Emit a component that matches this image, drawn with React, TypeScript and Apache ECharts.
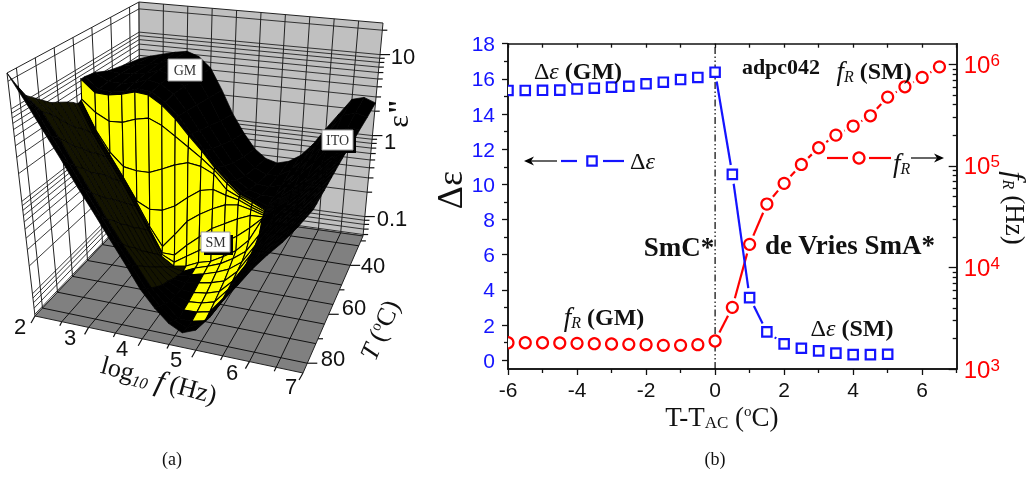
import React, { useEffect, useRef } from "react";
import * as echarts from "echarts";

// ---------- panel (b) data ----------
const deltaX = [-6, -5.5, -5, -4.5, -4, -3.5, -3, -2.5, -2, -1.5, -1, -0.5, 0, 0.5, 1, 1.5, 2, 2.5, 3, 3.5, 4, 4.5, 5];
const deltaEps = [15.34, 15.34, 15.35, 15.36, 15.42, 15.47, 15.53, 15.58, 15.72, 15.81, 15.96, 16.08, 16.38, 10.57, 3.56, 1.61, 0.93, 0.68, 0.53, 0.4, 0.32, 0.32, 0.34];
const relaxX = [-6, -5.5, -5, -4.5, -4, -3.5, -3, -2.5, -2, -1.5, -1, -0.5, 0, 0.5, 1, 1.5, 2, 2.5, 3, 3.5, 4, 4.5, 5, 5.5, 6, 6.5];
const relaxF = [1815, 1815, 1815, 1803, 1789, 1775, 1762, 1749, 1736, 1709, 1709, 1736, 1886, 4045, 16870, 42070, 67300, 103300, 150700, 200900, 246500, 311200, 475500, 600700, 743000, 944000];
const boundaryX = [0, 0];
const boundaryY = [-0.5, 18];
const xMajor = [-6, -4, -2, 0, 2, 4, 6];
const xMinor = [-5, -3, -1, 1, 3, 5, 7];
const xTop = [-6, -5, -4, -3, -2, -1, 0, 1, 2, 3, 4, 5, 6, 7];
const yMajor = [0, 2, 4, 6, 8, 10, 12, 14, 16, 18];
const yMinor = [1, 3, 5, 7, 9, 11, 13, 15, 17];
const fMajor = [1e3, 1e4, 1e5, 1e6];
const fMinor = [2e3, 3e3, 4e3, 5e3, 6e3, 7e3, 8e3, 9e3, 2e4, 3e4, 4e4, 5e4, 6e4, 7e4, 8e4, 9e4, 2e5, 3e5, 4e5, 5e5, 6e5, 7e5, 8e5, 9e5];

// ---------- panel (a) data ----------
const logFreq = [2, 2.25, 2.5, 2.75, 3, 3.25, 3.5, 3.75, 4, 4.25, 4.5, 4.75, 5, 5.25, 5.5, 5.75, 6, 6.25, 6.5, 6.75, 7];
const tempRows = [84, 80.6, 77.3, 73.9, 70.6, 67.2, 63.8, 60.5, 57.7, 55.7, 55.4, 55.2, 54.9, 54.6, 54.3, 54.0, 53.8, 52.1, 47.6, 42, 35.3, 28];
// log-scaled eps'' as a share of the box height, one row per temperature
const lossRows = [
  [1.0, .89, .78, .675, .57, .475, .38, .29, .20, .135, .085, .058, .08, .14, .22, .29, .365, .43, .49, .56, .64],
  [.93, .85, .74, .64, .535, .44, .345, .26, .175, .115, .07, .05, .075, .135, .215, .29, .365, .43, .49, .56, .64],
  [.87, .81, .71, .60, .50, .40, .31, .23, .15, .095, .045, .045, .058, .13, .21, .29, .365, .43, .495, .565, .64],
  [.84, .78, .67, .57, .465, .37, .27, .20, .125, .08, .05, .052, .065, .13, .21, .29, .37, .435, .50, .565, .64],
  [.81, .74, .63, .53, .43, .33, .24, .17, .105, .07, .055, .06, .075, .135, .215, .29, .37, .44, .50, .57, .64],
  [.78, .70, .60, .50, .40, .30, .20, .14, .09, .065, .063, .07, .087, .14, .22, .30, .375, .44, .505, .57, .64],
  [.76, .66, .56, .47, .365, .26, .165, .11, .07, .063, .072, .083, .10, .15, .23, .31, .38, .445, .51, .575, .64],
  [.74, .63, .53, .43, .33, .23, .13, .08, .055, .066, .08, .097, .12, .16, .24, .32, .39, .45, .515, .575, .64],
  [.72, .60, .50, .40, .30, .20, .10, .055, .045, .07, .087, .108, .14, .18, .26, .34, .40, .455, .52, .58, .64],
  [.70, .573, .474, .379, .28, .179, .075, .04, .05, .075, .09, .12, .155, .21, .31, .37, .41, .46, .52, .58, .64],
  [.70, .575, .476, .381, .283, .182, .08, .055, .09, .125, .16, .18, .215, .26, .312, .372, .412, .462, .522, .58, .64],
  [.702, .575, .478, .383, .286, .185, .085, .085, .137, .183, .229, .259, .289, .313, .315, .374, .414, .464, .524, .585, .64],
  [.702, .576, .48, .385, .29, .19, .11, .172, .24, .28, .313, .339, .347, .335, .32, .376, .416, .466, .526, .585, .64],
  [.704, .577, .482, .388, .292, .264, .268, .296, .342, .382, .395, .378, .366, .343, .325, .378, .418, .468, .528, .59, .64],
  [.706, .58, .49, .434, .424, .425, .449, .476, .494, .486, .46, .40, .376, .35, .33, .38, .42, .47, .53, .59, .64],
  [.71, .658, .627, .63, .652, .665, .64, .60, .56, .52, .475, .425, .38, .36, .333, .382, .422, .472, .532, .59, .64],
  [.80, .746, .744, .755, .773, .767, .73, .676, .61, .55, .485, .433, .385, .363, .335, .385, .425, .475, .535, .595, .64],
  [.80, .75, .747, .757, .775, .77, .73, .676, .605, .54, .475, .42, .375, .355, .335, .385, .43, .485, .55, .60, .635],
  [.79, .755, .755, .765, .785, .775, .735, .665, .585, .51, .44, .385, .35, .335, .335, .39, .45, .51, .58, .62, .63],
  [.76, .755, .76, .77, .79, .775, .73, .65, .56, .48, .405, .355, .325, .32, .335, .395, .46, .53, .60, .63, .63],
  [.74, .75, .755, .77, .79, .775, .72, .63, .53, .445, .375, .33, .305, .31, .34, .40, .47, .545, .62, .64, .625],
  [.72, .74, .755, .77, .78, .76, .71, .61, .50, .415, .345, .305, .29, .305, .34, .40, .48, .555, .63, .645, .625],
];
const freqGrid = [2.5, 3, 3.5, 4, 4.5, 5, 5.5, 6, 6.5];
const freqTicks = [2, 3, 4, 5, 6, 7];
const freqMinorTicks = [2.5, 3.5, 4.5, 5.5, 6.5];
const tempGrid = [32, 40, 48, 56, 64, 72, 80];
const tempTicks = [40, 60, 80];
const tempMinorTicks = [30, 50, 70];
const lossGrid = [0.06, 0.07, 0.08, 0.09, 0.1, 0.2, 0.3, 0.4, 0.5, 0.6, 0.7, 0.8, 0.9, 1, 2, 3, 4, 5, 6, 7, 8, 9, 10, 20];
const lossTicks = [0.1, 1, 10];

// ---------- projection of the box of panel (a) ----------
const floorBL = [140, 205], floorBR = [363, 236], floorNL = [35, 316], floorNR = [303, 373];
const topBL = [139, 2], topBR = [383, 23], topNL = [7, 73], topNR = [319, 118];
const uOf = (f: number) => (f - 2) / 5;
const vOf = (T: number) => (T - 28) / 56; // 0 at the back, 1 at the front
const wOf = (e: number) => (Math.log10(e) + 1.24) / 2.63;
const mix = (a: number[], b: number[], k: number) => [a[0] + (b[0] - a[0]) * k, a[1] + (b[1] - a[1]) * k];
function project(u: number, v: number, w: number) {
  const floor = mix(mix(floorBL, floorBR, u), mix(floorNL, floorNR, u), v);
  const top = mix(mix(topBL, topBR, u), mix(topNL, topNR, u), v);
  return mix(floor, top, w);
}
const SERIF = "Liberation Serif";
const SANS = "Liberation Sans";
const BLUE = "#1414ff";
const RED = "#ff0000";

function seg(a: number[], b: number[], stroke = "#222", lineWidth = 1) {
  return { type: "line", shape: { x1: a[0], y1: a[1], x2: b[0], y2: b[1] }, style: { stroke, lineWidth } };
}

function renderBox() {
  const kids: any[] = [];
  const poly = (pts: number[][], fill: string) => kids.push({ type: "polygon", shape: { points: pts }, style: { fill, stroke: "#222", lineWidth: 1 } });
  poly([project(0, 0, 0), project(0, 1, 0), project(0, 1, 1), project(0, 0, 1)], "#ffffff");
  poly([project(0, 0, 0), project(1, 0, 0), project(1, 0, 1), project(0, 0, 1)], "#c0c0c0");
  poly([project(0, 0, 0), project(1, 0, 0), project(1, 1, 0), project(0, 1, 0)], "#808080");
  freqGrid.forEach((f) => {
    kids.push(seg(project(uOf(f), 0, 0), project(uOf(f), 0, 1)));
    kids.push(seg(project(uOf(f), 0, 0), project(uOf(f), 1, 0), "#111"));
  });
  tempGrid.forEach((T) => {
    kids.push(seg(project(0, vOf(T), 0), project(0, vOf(T), 1)));
    kids.push(seg(project(0, vOf(T), 0), project(1, vOf(T), 0), "#111"));
  });
  lossGrid.forEach((e) => {
    kids.push(seg(project(0, 0, wOf(e)), project(1, 0, wOf(e)), "#222", 0.9));
    kids.push(seg(project(0, 0, wOf(e)), project(0, 1, wOf(e)), "#222", 0.9));
  });
  const tick = (p: number[], dx: number, dy: number) => kids.push(seg(p, [p[0] + dx, p[1] + dy], "#111", 1.2));
  freqTicks.forEach((f) => tick(project(uOf(f), 1, 0), -4, 7));
  freqMinorTicks.forEach((f) => tick(project(uOf(f), 1, 0), -2, 4));
  tempTicks.forEach((T) => tick(project(1, vOf(T), 0), 10, 0));
  tempMinorTicks.forEach((T) => tick(project(1, vOf(T), 0), 5, 0));
  lossTicks.forEach((e) => tick(project(1, 0, wOf(e)), 10, 0));
  lossGrid.filter((e) => !lossTicks.includes(e)).forEach((e) => tick(project(1, 0, wOf(e)), 5, 0));
  return { type: "group", children: kids };
}

const surfaceCells: number[][] = [];
for (let r = tempRows.length - 2; r >= 0; r--) for (let c = 0; c < logFreq.length - 1; c++) surfaceCells.push([c, r]);
const WALL_TOP_T = 53.8;

function renderCell(_p: any, api: any) {
  const c = api.value(0), r = api.value(1);
  const pt = (cc: number, rr: number) => project(uOf(logFreq[cc]), vOf(tempRows[rr]), lossRows[rr][cc]);
  const dT = (tempRows[r] - tempRows[r + 1]) / 56;
  const rise = ((lossRows[r + 1][c] + lossRows[r + 1][c + 1]) - (lossRows[r][c] + lossRows[r][c + 1])) / 2 / dT;
  const facing = rise > 0.1 && logFreq[c + 1] <= 5.5 && tempRows[r + 1] >= WALL_TOP_T;
  const flank = rise < -0.1 && logFreq[c] < 4 && tempRows[r] < 78 && tempRows[r + 1] >= WALL_TOP_T;
  const fill = facing ? "#ffff00" : flank ? "#141400" : "#000000";
  return {
    type: "polygon",
    shape: { points: [pt(c, r), pt(c + 1, r), pt(c + 1, r + 1), pt(c, r + 1)] },
    style: { fill, stroke: "#000", lineWidth: facing ? 1.1 : 0.7 },
  };
}

// ---------- curves of panel (b): Origin-style lines broken around the markers ----------
function curveRenderer(xs: number[], ys: number[], color: string, shape: "square" | "circle", gap: number) {
  return (params: any, api: any) => {
    const i = params.dataIndex;
    const p = api.coord([xs[i], ys[i]]);
    const kids: any[] = [];
    if (i + 1 < xs.length) {
      const q = api.coord([xs[i + 1], ys[i + 1]]);
      const dx = q[0] - p[0], dy = q[1] - p[1];
      const len = Math.hypot(dx, dy);
      if (len > 2 * gap) {
        const k = gap / len;
        kids.push(seg([p[0] + dx * k, p[1] + dy * k], [q[0] - dx * k, q[1] - dy * k], color, 2.2));
      }
    }
    if (shape === "square") kids.push({ type: "rect", shape: { x: p[0] - 4.7, y: p[1] - 4.7, width: 9.4, height: 9.4 }, style: { fill: "#fff", stroke: color, lineWidth: 2.2 } });
    else kids.push({ type: "circle", shape: { cx: p[0], cy: p[1], r: 5.5 }, style: { fill: "#fff", stroke: color, lineWidth: 2.2 } });
    return { type: "group", children: kids };
  };
}

// ---------- texts ----------
const rich = {
  n: { fontFamily: SERIF, fontSize: 24, color: "#111" },
  eps: { fontFamily: SERIF, fontSize: 24, fontStyle: "italic", color: "#111" },
  b: { fontFamily: SERIF, fontSize: 24, fontWeight: "bold", color: "#111" },
  f: { fontFamily: SERIF, fontSize: 27, fontStyle: "italic", color: "#111" },
  sub: { fontFamily: SERIF, fontSize: 16, fontStyle: "italic", color: "#111", verticalAlign: "bottom" },
  subr: { fontFamily: SERIF, fontSize: 15, color: "#111", verticalAlign: "bottom" },
  sup: { fontFamily: SERIF, fontSize: 15, color: "#111", verticalAlign: "top" },
};
function txt(x: number, y: number, text: string, o: any = {}) {
  const { rotation, z, ...style } = o;
  return {
    type: "text", x, y, rotation: rotation || 0, z: 100, silent: true,
    style: { text, rich, fontFamily: SERIF, fontSize: 24, fill: "#111", align: "center", verticalAlign: "middle", ...style },
  };
}
function sans(x: number, y: number, text: string) {
  return txt(x, y, text, { fontFamily: SANS, fontSize: 22 });
}
function labelBox(x: number, y: number, w: number, h: number, text: string) {
  return [
    { type: "rect", z: 98, silent: true, shape: { x: x + 3, y: y + 3, width: w, height: h }, style: { fill: "#000" } },
    { type: "rect", z: 99, silent: true, shape: { x, y, width: w, height: h }, style: { fill: "#fff", stroke: "#999", lineWidth: 1 } },
    txt(x + w / 2, y + h / 2 + 0.5, text, { fontSize: 14, fill: "#333" }),
  ];
}
function arrowHead(x: number, y: number, dir: number) {
  return { type: "polygon", z: 100, silent: true, shape: { points: [[x, y], [x - dir * 10, y - 4.5], [x - dir * 7, y], [x - dir * 10, y + 4.5]] }, style: { fill: "#000" } };
}
function hline(x1: number, x2: number, y: number, stroke: string, lineWidth = 2.2) {
  return { type: "line", z: 100, silent: true, shape: { x1, y1: y, x2, y2: y }, style: { stroke, lineWidth } };
}

function buildGraphics() {
  return [
    ...labelBox(168, 59, 34, 22, "GM"),
    ...labelBox(322, 130, 31, 20, "ITO"),
    ...labelBox(201, 232, 29, 20, "SM"),
    sans(20, 326, "2"), sans(70, 337, "3"), sans(122, 348, "4"), sans(176, 359, "5"), sans(232, 372, "6"), sans(291, 386, "7"),
    sans(373, 265, "40"), sans(354, 307, "60"), sans(333, 358, "80"),
    sans(403, 56, "10"), sans(390, 141, "1"), sans(392, 218, "0.1"),
    txt(397, 113, "{e|ε}{q|\"}", { rotation: Math.PI / 2, rich: { e: { fontFamily: SERIF, fontSize: 30, color: "#111" }, q: { fontFamily: SERIF, fontSize: 30, fontWeight: "bold", color: "#111" } } }),
    txt(380, 330, "{tf|T} {g|(}{sup|o}{g|C)}", { rotation: 1.16, rich: { ...rich, tf: { fontFamily: SERIF, fontSize: 26, fontStyle: "italic", color: "#111" }, g: { fontFamily: SERIF, fontSize: 26, color: "#111" } } }),
    txt(159, 380, "{g|log}{sub|10}{h| f} {g|(Hz)}", { rotation: -0.267, rich: { ...rich, g: { fontFamily: SERIF, fontSize: 26, color: "#111" }, h: { fontFamily: SERIF, fontSize: 30, fontStyle: "italic", color: "#111" } } }),
    txt(172, 459, "(a)", { fontSize: 18 }),
    txt(715, 459, "(b)", { fontSize: 18 }),
    txt(450, 190, "Δε", { fontSize: 36, rotation: Math.PI / 2 }),
    txt(1015, 208, "{h|f}{sub|R} {g|(Hz)}", { rotation: -Math.PI / 2, rich: { ...rich, g: { fontFamily: SERIF, fontSize: 27, color: "#111" }, h: { fontFamily: SERIF, fontSize: 30, fontStyle: "italic", color: "#111" } } }),
    txt(578, 71, "{n|Δ}{eps|ε}{b| (GM)}", {}),
    txt(781, 66, "adpc042", { fontSize: 22, fontWeight: "bold" }),
    txt(874, 71, "{f|f}{sub|R}{b| (SM)}", {}),
    txt(679, 247, "SmC*", { fontSize: 27, fontWeight: "bold" }),
    txt(850, 245, "de Vries SmA*", { fontSize: 27, fontWeight: "bold" }),
    txt(604, 317, "{f|f}{sub|R}{b| (GM)}", {}),
    txt(852, 328, "{n|Δ}{eps|ε}{b| (SM)}", {}),
    txt(744, 417, "{t|T-T}{subr|AC}{t| (}", { align: "right", rich: { t: { fontFamily: SERIF, fontSize: 27, color: "#111" }, subr: { fontFamily: SERIF, fontSize: 17, color: "#111", verticalAlign: "bottom" } } }),
    txt(744, 417, "{sup|o}{c|C)}", { align: "left", rich: { ...rich, c: { fontFamily: SERIF, fontSize: 27, color: "#111" } } }),
    hline(527, 557, 161, "#000", 1.2), arrowHead(524, 161, -1),
    hline(561, 577, 161, BLUE), hline(603, 624, 161, BLUE),
    { type: "rect", z: 100, silent: true, shape: { x: 587.3, y: 156.3, width: 9.4, height: 9.4 }, style: { fill: "#fff", stroke: BLUE, lineWidth: 2.2 } },
    txt(630, 161, "{n|Δ}{eps|ε}", { align: "left" }),
    hline(827, 848, 158, RED), hline(869, 891, 158, RED),
    { type: "circle", z: 100, silent: true, shape: { cx: 859, cy: 158, r: 5.5 }, style: { fill: "#fff", stroke: RED, lineWidth: 2.2 } },
    txt(893, 163, "{f|f}{sub|R}", { align: "left" }),
    hline(911, 941, 158, "#000", 1.2), arrowHead(944, 158, 1),
  ];
}

const axisBase = { lineStyle: { color: "#111", width: 1.5 } };

export default function App() {
  const ref = useRef<HTMLDivElement>(null);
  useEffect(() => {
    document.body.style.margin = "0";
    const chart = echarts.init(ref.current as HTMLDivElement, undefined, { renderer: "svg" });
    const xCommon = { type: "value", min: -6, max: 7, splitLine: { show: false }, axisLine: { ...axisBase, onZero: false } };
    const yCommon = { type: "value", min: -0.5, max: 18, splitLine: { show: false }, axisLine: { ...axisBase, onZero: false } };
    const logCommon = { type: "log", logBase: 10, min: 1000, max: 1596000, position: "right", splitLine: { show: false }, axisLine: { ...axisBase, onZero: false } };
    chart.setOption({
      animation: false,
      grid: { left: 508, right: 73.3, top: 43.7, bottom: 109 },
      xAxis: [
        { ...xCommon, position: "bottom", axisTick: { customValues: xMajor, length: 6, lineStyle: { color: "#111", width: 1.3 } }, axisLabel: { customValues: xMajor, fontFamily: SANS, fontSize: 21, color: "#111", margin: 10, showMinLabel: true, showMaxLabel: true } },
        { ...xCommon, position: "bottom", axisTick: { customValues: xMinor, length: 4, lineStyle: { color: "#111", width: 1.3 } }, axisLabel: { show: false } },
        { ...xCommon, position: "top", axisTick: { customValues: xTop, length: 4, inside: true, lineStyle: { color: "#111", width: 1.3 } }, axisLabel: { show: false } },
      ],
      yAxis: [
        { ...yCommon, position: "left", axisTick: { customValues: yMajor, length: 6, lineStyle: { color: "#111", width: 1.3 } }, axisLabel: { customValues: yMajor, fontFamily: SANS, fontSize: 21, color: BLUE, margin: 13 } },
        { ...yCommon, position: "left", axisTick: { customValues: yMinor, length: 4, lineStyle: { color: "#111", width: 1.3 } }, axisLabel: { show: false } },
        {
          ...logCommon,
          axisTick: { customValues: fMajor, length: 8, inside: true, lineStyle: { color: "#111", width: 1.3 } },
          axisLabel: {
            customValues: fMajor, margin: 7, color: RED,
            formatter: (v: number) => `{b|10}{s|${Math.round(Math.log10(v))}}`,
            rich: {
              b: { fontFamily: SANS, fontSize: 24, color: RED },
              s: { fontFamily: SANS, fontSize: 17, color: RED, verticalAlign: "top", padding: [0, 0, 8, 0] },
            },
          },
        },
        { ...logCommon, axisTick: { customValues: fMinor, length: 4, inside: true, lineStyle: { color: "#111", width: 1.3 } }, axisLabel: { show: false } },
      ],
      series: [
        { type: "custom", coordinateSystem: "none", silent: true, z: 1, data: [[0]], renderItem: renderBox },
        { type: "custom", coordinateSystem: "none", silent: true, z: 2, data: surfaceCells, renderItem: renderCell },
        {
          type: "line", xAxisIndex: 0, yAxisIndex: 0, z: 2, silent: true, showSymbol: false,
          data: boundaryX.map((x, i) => [x, boundaryY[i]]),
          lineStyle: { color: "#000", width: 1.2, type: [7, 2.5, 1.5, 2.5, 1.5, 2.5] },
        },
        {
          type: "custom", xAxisIndex: 0, yAxisIndex: 2, z: 3, clip: true, silent: true,
          encode: { x: 0, y: 1 }, data: relaxX.map((x, i) => [x, relaxF[i]]),
          renderItem: curveRenderer(relaxX, relaxF, RED, "circle", 9.5),
        },
        {
          type: "custom", xAxisIndex: 0, yAxisIndex: 0, z: 4, clip: true, silent: true,
          encode: { x: 0, y: 1 }, data: deltaX.map((x, i) => [x, deltaEps[i]]),
          renderItem: curveRenderer(deltaX, deltaEps, BLUE, "square", 9.5),
        },
      ],
      graphic: { elements: buildGraphics() },
    });
    return () => chart.dispose();
  }, []);
  return <div ref={ref} style={{ position: "fixed", left: 0, top: 0, width: 1030, height: 478 }} />;
}
